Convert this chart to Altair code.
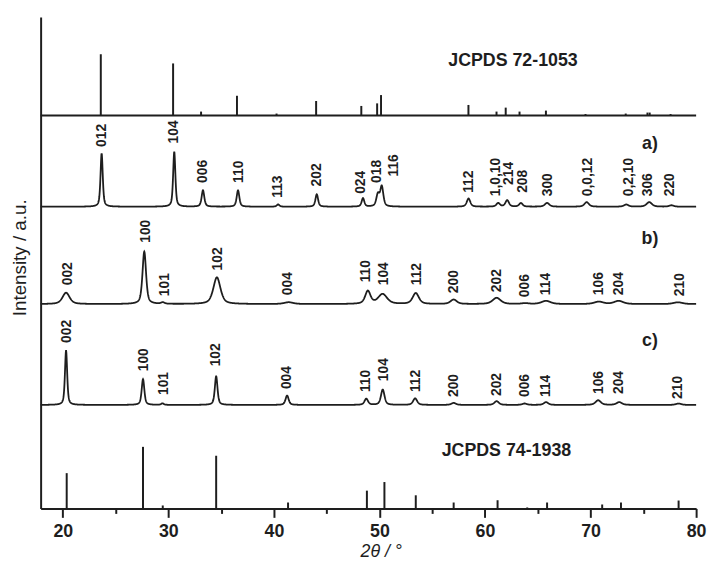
import altair as alt
import numpy as np
import pandas as pd

X_MIN, X_MAX = 17.9, 80.0
Y_MAX = 497

# vertical offsets of the five stacked patterns (intensity units)
off_ref_bottom = 0.0
off_c = 104.7
off_b = 206.7
off_a = 305.2
off_ref_top = 397.4

# ---- JCPDS 72-1053 (top sticks) ----
ref1_pos = [23.6, 30.45, 33.1, 36.5, 40.25, 44.0, 48.28, 49.78, 50.15, 58.43,
            61.09, 61.96, 63.27, 65.77, 69.52, 73.33, 75.39, 75.6, 77.58]
ref1_int = [62, 52.7, 4, 20, 2, 14.7, 9.7, 12.3, 20.7, 10.7,
            4, 8, 4, 5, 1.5, 2, 3, 3, 1.5]

# ---- JCPDS 74-1938 (bottom sticks) ----
ref2_pos = [20.37, 27.6, 29.47, 34.53, 41.34, 48.81, 50.47, 53.44, 57.03,
            61.19, 64.0, 65.88, 71.1, 72.88, 78.34]
ref2_int = [35.7, 62.3, 3, 53.3, 6, 18, 26.7, 13.3, 6, 8.3, 1, 6, 4, 6, 8]

# ---- pattern a) peaks: position, height, FWHM ----
a_pos = [23.68, 30.56, 33.28, 36.6, 40.4, 44.06, 48.44, 49.85, 50.22, 58.44,
         61.25, 62.1, 63.4, 65.88, 69.63, 73.38, 75.56, 77.66]
a_hgt = [54, 55.5, 16.5, 16.5, 2.3, 12.5, 8.5, 12, 20, 8.2,
         3.6, 6.5, 3.6, 3.8, 4.6, 2.2, 4.6, 1.4]
a_fwhm = [0.25, 0.25, 0.3, 0.3, 0.3, 0.3, 0.3, 0.35, 0.35, 0.4,
          0.4, 0.4, 0.4, 0.5, 0.5, 0.5, 0.6, 0.5]
a_lbl = ["012", "104", "006", "110", "113", "202", "024", "018", "116", "112",
         "1,0,10", "214", "208", "300", "0,0,12", "0,2,10", "306", "220"]
a_lbl_x = [23.75, 30.56, 33.28, 36.66, 40.41, 44.06, 48.28, 49.78, 51.35, 58.44,
           61.03, 62.28, 63.59, 65.93, 69.78, 73.69, 75.47, 77.5]
a_lbl_y = [60.5, 64, 24, 24, 9, 20.5, 13, 24, 30.5, 14,
           10.5, 22, 14, 10.5, 10.5, 10.5, 10.5, 10.5]

# ---- pattern b) ----
b_pos = [20.31, 27.72, 29.47, 34.6, 41.4, 48.9, 50.3, 53.44, 57.03, 61.1,
         63.8, 65.78, 70.78, 72.66, 78.28]
b_hgt = [11.5, 53, 1.5, 27, 1.8, 13, 10, 11, 4.5, 6.3, 0.8, 3.2, 2.4, 3.2, 1.8]
b_fwhm = [0.8, 0.4, 0.4, 0.8, 1.0, 0.6, 1.0, 0.7, 0.7, 0.9, 0.8, 1.0, 1.0, 1.0, 1.0]
b_lbl = ["002", "100", "101", "102", "004", "110", "104", "112", "200", "202",
         "006", "114", "106", "204", "210"]
b_lbl_x = [20.47, 27.91, 29.69, 34.69, 41.34, 48.75, 50.47, 53.6, 57.03, 61.1,
           63.75, 65.78, 70.78, 72.72, 78.44]
b_lbl_y = [19, 62, 8, 34, 9, 22, 19, 19, 11, 12, 7, 9, 9, 9, 8]

# ---- pattern c) ----
c_pos = [20.31, 27.6, 29.44, 34.53, 41.25, 48.75, 50.31, 53.38, 57.03, 61.1,
         63.75, 65.78, 70.72, 72.72, 78.34]
c_hgt = [55, 26, 1.5, 29, 9.5, 6.2, 15.5, 6.6, 2, 3.8, 1.4, 2.8, 4.7, 2.8, 1.4]
c_fwhm = [0.25, 0.3, 0.3, 0.3, 0.35, 0.4, 0.4, 0.45, 0.5, 0.5,
          0.5, 0.5, 0.6, 0.6, 0.6]
c_lbl = ["002", "100", "101", "102", "004", "110", "104", "112", "200", "202",
         "006", "114", "106", "204", "210"]
c_lbl_x = [20.41, 27.72, 29.6, 34.53, 41.25, 48.75, 50.47, 53.5, 57.03, 61.1,
           63.75, 65.78, 70.78, 72.72, 78.28]
c_lbl_y = [62.7, 34, 10, 39, 16, 13, 24, 13, 8, 9, 8, 8, 11, 11, 6]

# annotation texts
ann_text = ["JCPDS 72-1053", "a)", "b)", "c)", "JCPDS 74-1938"]
ann_x = [62.65, 75.63, 75.63, 75.63, 62.03]
ann_y = [452.4, 369.0, 272.4, 169.0, 58.4]
ann_size = [18, 18, 18, 18, 18]

major_ticks = [20, 30, 40, 50, 60, 70, 80]
minor_ticks = [25, 35, 45, 55, 65, 75]

INK = "#1e1e1e"
FONT = "Liberation Sans"


def profile(xs, pos, hgt, fwhm, eta=0.55):
    y = np.zeros_like(xs)
    for p, h, w in zip(pos, hgt, fwhm):
        t = (xs - p) / (w / 2.0)
        y += h * (eta / (1 + t * t) + (1 - eta) * np.exp(-np.log(2) * t * t))
    return y


grid = np.linspace(X_MIN, X_MAX, 3106)
frames = []
for name, pos, hgt, fw, off in [("a", a_pos, a_hgt, a_fwhm, off_a),
                                ("b", b_pos, b_hgt, b_fwhm, off_b),
                                ("c", c_pos, c_hgt, c_fwhm, off_c)]:
    frames.append(pd.DataFrame({"x": grid,
                                "y": off + profile(grid, pos, hgt, fw),
                                "pattern": name}))
curves = pd.concat(frames, ignore_index=True)

sticks = pd.concat([
    pd.DataFrame({"x": ref1_pos, "y": off_ref_top,
                  "y2": [off_ref_top + v for v in ref1_int]}),
    pd.DataFrame({"x": ref2_pos, "y": off_ref_bottom,
                  "y2": [off_ref_bottom + v for v in ref2_int]}),
], ignore_index=True)

labels = pd.concat([
    pd.DataFrame({"x": a_lbl_x, "y": [off_a + v for v in a_lbl_y], "t": a_lbl}),
    pd.DataFrame({"x": b_lbl_x, "y": [off_b + v for v in b_lbl_y], "t": b_lbl}),
    pd.DataFrame({"x": c_lbl_x, "y": [off_c + v for v in c_lbl_y], "t": c_lbl}),
], ignore_index=True)

ann = pd.DataFrame({"x": ann_x, "y": ann_y, "t": ann_text, "s": ann_size})
baseline_top = pd.DataFrame({"y": [off_ref_top]})

xscale = alt.Scale(domain=[X_MIN, X_MAX], nice=False, zero=False)
yscale = alt.Scale(domain=[0, Y_MAX], nice=False, zero=False)

line_layer = alt.Chart(curves).mark_line(color=INK, strokeWidth=1.8).encode(
    x=alt.X("x:Q", scale=xscale,
            axis=alt.Axis(values=major_ticks, orient="bottom", title="2θ / °",
                          tickSize=9, tickWidth=2, tickColor=INK,
                          domainWidth=2, domainColor=INK,
                          labelFont=FONT, labelFontSize=18, labelFontWeight="bold",
                          labelColor=INK, labelPadding=5, labelFlush=False,
                          titleFont=FONT, titleFontSize=18, titleFontWeight="normal",
                          titleFontStyle="italic", titleColor=INK,
                          titleX=344, titleY=49, titleAlign="center",
                          titleBaseline="alphabetic", grid=False)),
    y=alt.Y("y:Q", scale=yscale,
            axis=alt.Axis(orient="left", ticks=False, labels=False, grid=False,
                          domainWidth=2, domainColor=INK, title="Intensity / a.u.",
                          titleFont=FONT, titleFontSize=19, titleFontWeight="normal",
                          titleColor=INK, titleAngle=270, titleX=-21, titleY=243,
                          titleAlign="center", titleBaseline="middle")),
    detail="pattern:N",
)

stick_layer = alt.Chart(sticks).mark_rule(color=INK, strokeWidth=2).encode(
    x=alt.X("x:Q", scale=xscale,
            axis=alt.Axis(values=minor_ticks, orient="bottom", labels=False,
                          domain=False, tickSize=5, tickWidth=2, tickColor=INK,
                          title=None, grid=False)),
    y=alt.Y("y:Q", scale=yscale, axis=None),
    y2="y2:Q",
)

base_layer = alt.Chart(baseline_top).mark_rule(color=INK, strokeWidth=2).encode(
    y=alt.Y("y:Q", scale=yscale, axis=None),
)

label_layer = alt.Chart(labels).mark_text(
    angle=270, align="left", baseline="middle", font=FONT, fontSize=14,
    fontWeight="bold", color=INK,
).encode(
    x=alt.X("x:Q", scale=xscale, axis=None),
    y=alt.Y("y:Q", scale=yscale, axis=None),
    text="t:N",
)

ann_layer = alt.Chart(ann).mark_text(
    align="center", baseline="middle", font=FONT, fontWeight="bold", color=INK,
).encode(
    x=alt.X("x:Q", scale=xscale, axis=None),
    y=alt.Y("y:Q", scale=yscale, axis=None),
    text="t:N",
    size=alt.Size("s:Q", scale=None, legend=None),
)

chart = alt.layer(line_layer, stick_layer, base_layer, label_layer, ann_layer).resolve_axis(
    x="independent", y="independent"
).resolve_scale(x="shared", y="shared").properties(
    width=663, height=Y_MAX,
    autosize=alt.AutoSizeParams(type="none"),
    padding={"left": 33, "top": 6, "right": 11, "bottom": 51},
).configure_view(stroke=None)

chart.save("out.html", embed_options={"renderer": "svg", "actions": False})
